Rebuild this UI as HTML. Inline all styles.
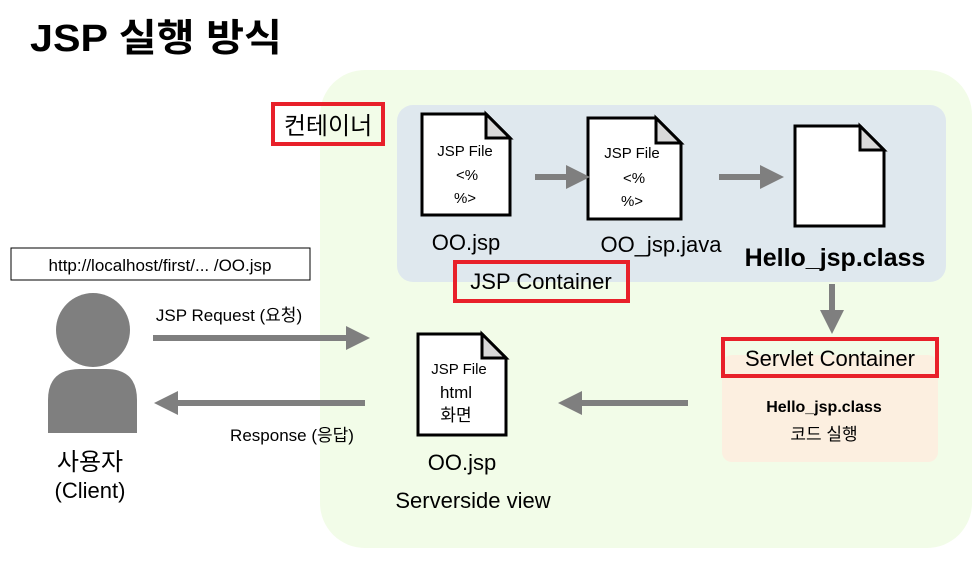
<!DOCTYPE html>
<html><head><meta charset="utf-8"><style>
body{margin:0;background:#fff}
svg{display:block}
text{font-family:"Liberation Sans","Noto Sans CJK KR",sans-serif;fill:#000}
</style></head><body>
<svg width="978" height="561" viewBox="0 0 978 561" xmlns="http://www.w3.org/2000/svg">
<defs>
<marker id="ah" markerWidth="4" markerHeight="4" refX="2" refY="2" orient="auto" markerUnits="strokeWidth">
<path d="M0,0 L4,2 L0,4 Z" fill="#7f7f7f"/></marker>
</defs>
<text x="30" y="51" font-size="38" font-weight="bold" textLength="252" lengthAdjust="spacingAndGlyphs">JSP 실행 방식</text>
<rect x="320" y="70" width="652" height="478" rx="45" fill="#f2fce8"/>
<rect x="397" y="105" width="549" height="177" rx="16" fill="#dfe8ee"/>
<rect x="722" y="355" width="216" height="107" rx="10" fill="#fcefe0"/>
<rect x="273" y="104" width="110" height="40" fill="none" stroke="#e8202a" stroke-width="4"/>
<text x="328" y="134" font-size="24" text-anchor="middle">컨테이너</text>
<!-- docs -->
<g stroke="#000" stroke-width="3">
<path d="M422,114 H486 L510,138 V215 H422 Z" fill="#fff"/><path d="M486,114 V138 H510 Z" fill="#d9d9d9"/>
<path d="M588,118 H656 L681,143 V219 H588 Z" fill="#fff"/><path d="M656,118 V143 H681 Z" fill="#d9d9d9"/>
<path d="M795,126 H860 L884,150 V226 H795 Z" fill="#fff"/><path d="M860,126 V150 H884 Z" fill="#d9d9d9"/>
<path d="M418,334 H482 L506,358 V435 H418 Z" fill="#fff"/><path d="M482,334 V358 H506 Z" fill="#d9d9d9"/>
</g>
<g font-size="15" text-anchor="middle">
<text x="465" y="156">JSP File</text><text x="467" y="180">&lt;%</text><text x="465" y="203">%&gt;</text>
<text x="632" y="158">JSP File</text><text x="634" y="183">&lt;%</text><text x="632" y="206">%&gt;</text>
<text x="459" y="374">JSP File</text>
</g>
<text x="456" y="398" font-size="17" text-anchor="middle">html</text>
<text x="456" y="421" font-size="17" text-anchor="middle">화면</text>
<g stroke="#7f7f7f" stroke-width="6" fill="none">
<line x1="535" y1="177" x2="578" y2="177" marker-end="url(#ah)"/>
<line x1="719" y1="177" x2="772" y2="177" marker-end="url(#ah)"/>
<line x1="832" y1="284" x2="832" y2="322" marker-end="url(#ah)"/>
<line x1="688" y1="403" x2="570" y2="403" marker-end="url(#ah)"/>
<line x1="153" y1="338" x2="358" y2="338" marker-end="url(#ah)"/>
<line x1="365" y1="403" x2="166" y2="403" marker-end="url(#ah)"/>
</g>
<g font-size="22" text-anchor="middle">
<text x="466" y="250">OO.jsp</text>
<text x="661" y="252">OO_jsp.java</text>
<text x="462" y="470">OO.jsp</text>
<text x="473" y="508">Serverside view</text>
</g>
<text x="835" y="266" font-size="25" font-weight="bold" text-anchor="middle">Hello_jsp.class</text>
<rect x="455" y="262" width="173" height="39" fill="none" stroke="#e8202a" stroke-width="4"/>
<text x="541" y="289" font-size="22" text-anchor="middle">JSP Container</text>
<rect x="723" y="339" width="214" height="37" fill="none" stroke="#e8202a" stroke-width="4"/>
<text x="830" y="366" font-size="22" text-anchor="middle">Servlet Container</text>
<text x="824" y="412" font-size="16" font-weight="bold" text-anchor="middle">Hello_jsp.class</text>
<text x="824" y="440" font-size="17" text-anchor="middle">코드 실행</text>
<rect x="11" y="248" width="299" height="32" fill="#fff" stroke="#000" stroke-width="1"/>
<text x="160" y="271" font-size="17" text-anchor="middle">http://localhost/first/... /OO.jsp</text>
<circle cx="93" cy="330" r="37" fill="#7f7f7f"/>
<path d="M48,433 V400 Q48,369 80,369 H106 Q137,369 137,400 V433 Z" fill="#7f7f7f"/>
<text x="229" y="321" font-size="17" text-anchor="middle">JSP Request (요청)</text>
<text x="292" y="441" font-size="17" text-anchor="middle">Response (응답)</text>
<text x="90" y="470" font-size="24" text-anchor="middle">사용자</text>
<text x="90" y="498" font-size="22" text-anchor="middle">(Client)</text>
</svg>
</body></html>
